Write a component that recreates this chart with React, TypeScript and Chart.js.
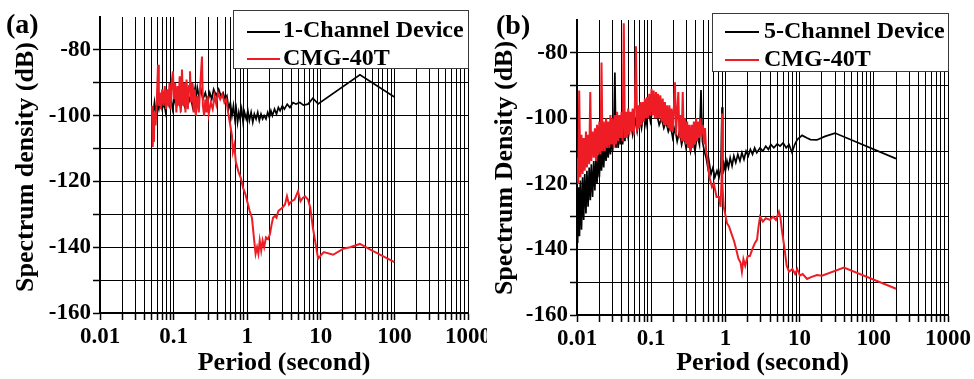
import React, { useEffect, useRef } from 'react';
import { Chart, registerables } from 'chart.js';

Chart.register(...registerables);

// ---------- axis labels ----------
const decadeLabels = ['0.01', '0.1', '1', '10', '100', '1000'];
const minorMultipliers = [1, 2, 3, 4, 5, 6, 7, 8, 9];
const yLabelValues = [-160, -140, -120, -100, -80];
const yMin = -160;
const yMax = -70;
const xTitle = 'Period (second)';

// ---------- panel (a) data: [period (s), dB] ----------
const aBlackLabel = '1-Channel Device';
const aRedLabel = 'CMG-40T';
const aBlack: [number, number][] = [
  [0.051, -100], [0.052, -103.5], [0.053, -99], [0.055, -96], [0.057, -99], [0.06, -96], [0.063, -98],
  [0.066, -95], [0.07, -98], [0.074, -96], [0.078, -99], [0.082, -95], [0.087, -97], [0.092, -94],
  [0.097, -98], [0.103, -95], [0.11, -97], [0.117, -94], [0.125, -98], [0.132, -95], [0.14, -97],
  [0.15, -93], [0.16, -96], [0.17, -94], [0.18, -97], [0.19, -92], [0.2, -95], [0.21, -91.5],
  [0.22, -94], [0.235, -92], [0.25, -95], [0.27, -93], [0.29, -96], [0.31, -93], [0.33, -95],
  [0.35, -92], [0.38, -94], [0.41, -92], [0.44, -94], [0.47, -93], [0.5, -95], [0.53, -94],
  [0.56, -98], [0.59, -96], [0.62, -100], [0.65, -97], [0.68, -101], [0.71, -98], [0.74, -102],
  [0.77, -99], [0.8, -101], [0.84, -98], [0.88, -102], [0.92, -99], [0.97, -101], [1.02, -98.5],
  [1.07, -101.5], [1.13, -99], [1.19, -102], [1.25, -99.5], [1.32, -101], [1.39, -99], [1.46, -101.5],
  [1.54, -99.5], [1.62, -101], [1.7, -100], [1.8, -101], [1.9, -99], [2.0, -100.5], [2.1, -98.5],
  [2.2, -100], [2.35, -98], [2.5, -99.5], [2.65, -97.5], [2.8, -98.5], [3.0, -97], [3.2, -98],
  [3.5, -96.5], [3.8, -97.5], [4.2, -96], [4.6, -96.5], [5.2, -96], [5.8, -96.8], [6.7, -96.5],
  [7.8, -94.7], [9.2, -96.4], [34, -87.6], [100, -94.3],
];
const aRed: [number, number][] = [
  [0.051, -97], [0.052, -109.5], [0.053, -104], [0.054, -108], [0.055, -99], [0.057, -103], [0.059, -96],
  [0.0614, -84.5], [0.063, -97], [0.065, -93], [0.067, -98], [0.07, -92], [0.073, -97], [0.076, -91],
  [0.079, -98], [0.082, -92], [0.085, -97], [0.088, -90], [0.091, -98], [0.095, -89], [0.098, -86.5],
  [0.101, -95], [0.105, -90], [0.109, -99], [0.113, -91], [0.117, -97], [0.121, -88], [0.125, -99],
  [0.13, -86], [0.135, -97], [0.14, -90], [0.145, -99], [0.15, -89], [0.156, -98], [0.162, -91],
  [0.167, -86.5], [0.173, -96], [0.18, -90], [0.187, -99], [0.194, -92], [0.2, -100], [0.21, -94],
  [0.22, -99], [0.23, -91], [0.243, -82], [0.25, -97], [0.26, -100], [0.27, -95], [0.28, -99],
  [0.29, -94], [0.3, -99.5], [0.32, -96], [0.34, -98], [0.36, -94], [0.38, -96.5], [0.4, -93],
  [0.43, -95], [0.46, -93.5], [0.49, -96], [0.52, -95], [0.55, -99], [0.58, -102], [0.62, -106],
  [0.64, -111], [0.67, -109], [0.7, -114], [0.76, -117], [0.82, -119], [0.88, -122], [0.95, -124],
  [1.0, -126], [1.08, -129], [1.16, -131], [1.22, -136], [1.3, -142], [1.36, -140], [1.42, -142],
  [1.48, -138], [1.55, -141], [1.62, -138], [1.7, -140], [1.8, -137], [1.92, -137.5], [2.04, -136],
  [2.15, -133], [2.25, -131], [2.39, -130.5], [2.5, -131], [2.65, -129], [2.8, -128.5], [3.0, -128],
  [3.26, -127], [3.47, -124.5], [3.7, -127], [4.0, -126], [4.4, -125.5], [4.9, -123], [5.3, -126],
  [5.7, -125], [6.1, -124.5], [6.7, -125.5], [7.2, -128], [7.8, -134], [8.5, -139], [9.2, -143.5],
  [10, -142.5], [11, -141.5], [14.7, -142.3], [20, -140.5], [25, -140], [34, -139], [50, -141],
  [100, -144.5],
];

// ---------- panel (b) data: [period (s), dB] ----------
const bBlackLabel = '5-Channel Device';
const bRedLabel = 'CMG-40T';
const bBlack: [number, number][] = [
  [0.01, -125], [0.0102, -138], [0.0105, -121], [0.0108, -136], [0.0111, -119], [0.0115, -134],
  [0.0119, -118], [0.0123, -131], [0.0127, -117], [0.0132, -129], [0.0136, -116], [0.0141, -127],
  [0.0146, -115], [0.0151, -125], [0.0156, -114], [0.0162, -124], [0.0168, -113], [0.0174, -122],
  [0.018, -112], [0.0186, -120], [0.0193, -111], [0.02, -118], [0.0207, -110], [0.0214, -116],
  [0.0221, -109], [0.0229, -115], [0.0237, -108], [0.0246, -113], [0.0254, -107], [0.0263, -112],
  [0.0273, -106], [0.0282, -111], [0.0292, -105], [0.0302, -110], [0.0313, -104], [0.0324, -86],
  [0.0335, -109], [0.0347, -104], [0.0359, -109], [0.0372, -103], [0.0385, -108], [0.0398, -102],
  [0.0412, -108], [0.0427, -103], [0.0442, -107], [0.0457, -102], [0.049, -106], [0.0525, -101],
  [0.0562, -105], [0.0603, -100], [0.0646, -104], [0.0692, -99], [0.0741, -103], [0.0794, -98],
  [0.0851, -102], [0.0912, -97], [0.0977, -101], [0.105, -97], [0.112, -98.5], [0.12, -99],
  [0.128, -102], [0.138, -100], [0.148, -103], [0.158, -101], [0.17, -104], [0.182, -102],
  [0.195, -106], [0.209, -103], [0.224, -107], [0.24, -104], [0.257, -108], [0.275, -105],
  [0.295, -109], [0.316, -106], [0.339, -110], [0.363, -106], [0.389, -110], [0.417, -105],
  [0.447, -108], [0.469, -91.4], [0.49, -107], [0.52, -110], [0.55, -112], [0.58, -115], [0.6, -113],
  [0.64, -117], [0.68, -115], [0.72, -118], [0.77, -116], [0.82, -118], [0.87, -115], [0.9, -96.6],
  [0.92, -117], [0.96, -114], [1.0, -116], [1.05, -113], [1.1, -115], [1.16, -112], [1.23, -114.5],
  [1.3, -111.5], [1.38, -113.5], [1.47, -111], [1.57, -113], [1.67, -110.5], [1.78, -112.5],
  [1.9, -110], [2.03, -111.5], [2.17, -109.5], [2.32, -111], [2.48, -109], [2.65, -110.5],
  [2.93, -109], [3.2, -110], [3.5, -108.5], [3.8, -109.5], [4.1, -108], [4.5, -109], [5.0, -107.8],
  [5.45, -108.5], [6.0, -107.5], [6.6, -109], [7.2, -108], [7.9, -110.4], [8.6, -108], [9.3, -106.5],
  [10.8, -105.2], [12.6, -106], [14, -106.5], [17.1, -106.6], [22, -105.5], [30, -104.5], [199, -112.3],
];
const bRed: [number, number][] = [
  [0.01, -112], [0.0104, -120], [0.0107, -91.5], [0.0111, -118], [0.0115, -105], [0.0119, -117],
  [0.0123, -106], [0.0127, -116], [0.0132, -104], [0.0136, -115], [0.0141, -105], [0.0146, -114],
  [0.0151, -92], [0.0156, -113], [0.0162, -104], [0.0168, -112], [0.0174, -103], [0.018, -113],
  [0.0186, -102], [0.0193, -111], [0.02, -101], [0.0207, -111], [0.0214, -83], [0.0221, -110],
  [0.0229, -101], [0.0237, -110], [0.0246, -100], [0.0254, -109], [0.0263, -101], [0.0273, -109],
  [0.0282, -99], [0.0292, -108], [0.0302, -100], [0.0313, -109], [0.0324, -99], [0.0335, -108],
  [0.0347, -98], [0.0359, -107], [0.0372, -99], [0.0385, -106], [0.0398, -98], [0.0412, -107],
  [0.0427, -71], [0.0442, -106], [0.0457, -98], [0.0473, -106], [0.049, -97], [0.0507, -105],
  [0.0525, -98], [0.0543, -104], [0.0562, -97], [0.0582, -105], [0.0603, -96], [0.0624, -78],
  [0.0646, -104], [0.0668, -96], [0.0692, -103], [0.0716, -95], [0.0741, -102], [0.0767, -95],
  [0.0794, -101], [0.0822, -94], [0.0851, -100], [0.0881, -93.5], [0.0912, -100], [0.0944, -92.5],
  [0.0977, -99], [0.101, -91], [0.105, -99], [0.108, -91.5], [0.112, -100], [0.116, -92],
  [0.12, -100], [0.124, -92.5], [0.128, -100], [0.133, -93], [0.138, -101], [0.143, -94],
  [0.148, -102], [0.153, -95], [0.158, -102], [0.164, -96], [0.17, -103], [0.176, -96],
  [0.182, -104], [0.188, -97], [0.195, -104], [0.202, -97], [0.209, -89], [0.216, -105],
  [0.224, -98], [0.232, -92], [0.24, -106], [0.248, -99], [0.257, -107], [0.266, -92],
  [0.275, -107], [0.285, -100], [0.295, -108], [0.305, -101], [0.316, -109], [0.327, -102],
  [0.339, -110], [0.351, -102], [0.363, -109], [0.376, -101], [0.389, -108], [0.403, -100],
  [0.417, -107], [0.432, -101], [0.447, -106], [0.462, -100], [0.479, -105], [0.496, -102],
  [0.513, -108], [0.531, -103], [0.55, -110], [0.569, -112], [0.589, -115], [0.61, -118],
  [0.66, -121], [0.7, -120], [0.76, -124], [0.82, -124], [0.86, -127], [0.89, -118], [0.9, -98.5],
  [0.91, -120], [0.95, -127], [0.99, -129], [1.05, -132], [1.12, -133], [1.2, -135], [1.31, -137.5],
  [1.4, -140], [1.5, -142.8], [1.6, -144], [1.67, -146.8], [1.75, -143], [1.85, -145], [2.0, -142],
  [2.14, -142], [2.3, -140], [2.5, -138], [2.67, -137], [2.8, -133], [2.93, -130], [3.2, -131.5],
  [3.5, -130.5], [3.99, -131], [4.4, -130], [4.8, -131], [5.27, -128.5], [5.5, -130], [5.8, -134.5],
  [6.2, -139], [6.7, -145], [7.2, -146.8], [8.0, -146], [8.7, -147.5], [9.3, -146], [10.1, -148],
  [11, -147.5], [12.6, -149], [14, -148.5], [17.1, -147.8], [20, -148], [39.6, -145.5], [200, -152],
];

const BLACK = '#000000';
const RED = '#ee1c24';
const FONT = '"Liberation Serif", "Times New Roman", serif';

type Layout = {
  width: number;
  left: number;
  right: number;
  top: number;
  bottom: number;
  yTitle: string;
  yTitleX: number;
  yTitleY: number;
  label: string;
  labelX: number;
  labelY: number;
  box: { x: number; y: number; w: number; h: number };
  lineX1: number;
  lineX2: number;
  textX: number;
  rowLineY: number[];
  rowTextY: number[];
};

const H = 379;

const decoPlugin = {
  id: 'deco',
  afterDraw(chart: any, _args: any, opts: any) {
    const ctx = chart.ctx as CanvasRenderingContext2D;
    const L: Layout = opts.layout;
    ctx.save();
    ctx.fillStyle = '#000';
    ctx.textBaseline = 'alphabetic';
    ctx.textAlign = 'left';
    ctx.font = `bold 28px ${FONT}`;
    ctx.fillText(L.label, L.labelX, L.labelY);

    // y-axis title (rotated)
    ctx.save();
    ctx.translate(L.yTitleX, L.yTitleY);
    ctx.rotate(-Math.PI / 2);
    ctx.textAlign = 'center';
    ctx.textBaseline = 'middle';
    ctx.font = `bold 26px ${FONT}`;
    ctx.fillText(L.yTitle, 0, 0);
    ctx.restore();

    const b = L.box;
    ctx.fillStyle = '#fff';
    ctx.fillRect(b.x, b.y, b.w, b.h);
    ctx.strokeStyle = '#3a3a3a';
    ctx.lineWidth = 1;
    ctx.strokeRect(b.x + 0.5, b.y + 0.5, b.w - 1, b.h - 1);

    ctx.font = `bold 24px ${FONT}`;
    ctx.textAlign = 'left';
    ctx.textBaseline = 'alphabetic';
    chart.data.datasets.forEach((ds: any, i: number) => {
      ctx.strokeStyle = ds.borderColor;
      ctx.lineWidth = 2;
      ctx.beginPath();
      ctx.moveTo(L.lineX1, L.rowLineY[i]);
      ctx.lineTo(L.lineX2, L.rowLineY[i]);
      ctx.stroke();
      ctx.fillStyle = '#000';
      ctx.fillText(ds.label, L.textX, L.rowTextY[i]);
    });
    ctx.restore();
  },
};

function decadeLabelFor(value: number): string {
  for (const l of decadeLabels) {
    const n = Number(l);
    if (Math.abs(n - value) / n < 1e-6) return l;
  }
  return '';
}

function makeConfig(black: [number, number][], red: [number, number][], blackLabel: string, redLabel: string, L: Layout): any {
  return {
    type: 'line',
    data: {
      datasets: [
        {
          label: blackLabel,
          data: black.map(([x, y]) => ({ x, y })),
          borderColor: BLACK,
          borderWidth: 1.7,
          pointRadius: 0,
          tension: 0,
          order: 2,
        },
        {
          label: redLabel,
          data: red.map(([x, y]) => ({ x, y })),
          borderColor: RED,
          borderWidth: 2,
          pointRadius: 0,
          tension: 0,
          order: 1,
        },
      ],
    },
    options: {
      animation: false,
      responsive: false,
      maintainAspectRatio: false,
      events: [],
      layout: { padding: { left: 0, top: L.top, right: L.width - L.right, bottom: 0 } },
      plugins: {
        legend: { display: false },
        tooltip: { enabled: false },
        deco: { layout: L },
      },
      scales: {
        x: {
          type: 'logarithmic',
          min: Number(decadeLabels[0]),
          max: Number(decadeLabels[decadeLabels.length - 1]),
          afterBuildTicks: (scale: any) => {
            const ticks: { value: number }[] = [];
            decadeLabels.forEach((l, i) => {
              const d = Number(l);
              if (i === decadeLabels.length - 1) {
                ticks.push({ value: d });
              } else {
                minorMultipliers.forEach((m) => ticks.push({ value: Number((d * m).toPrecision(6)) }));
              }
            });
            scale.ticks = ticks;
          },
          afterFit: (scale: any) => {
            scale.height = H - L.bottom;
            scale.paddingLeft = 0;
            scale.paddingRight = 0;
          },
          grid: {
            color: '#000',
            lineWidth: 1,
            drawTicks: true,
            tickLength: 7,
            tickWidth: 1.5,
          },
          border: { display: true, color: '#000', width: 2 },
          ticks: {
            autoSkip: false,
            maxRotation: 0,
            minRotation: 0,
            padding: 3,
            color: '#000',
            font: { family: FONT, size: 23, weight: 'bold' },
            callback: (v: any) => decadeLabelFor(Number(v)),
          },
          title: {
            display: true,
            text: xTitle,
            color: '#000',
            font: { family: FONT, size: 26, weight: 'bold', lineHeight: 1.2 },
            padding: { top: 0, bottom: 0 },
          },
        },
        y: {
          type: 'linear',
          min: yMin,
          max: yMax,
          afterFit: (scale: any) => {
            scale.width = L.left;
            scale.paddingTop = 0;
            scale.paddingBottom = 0;
          },
          grid: {
            color: (c: any) => (c.tick && c.tick.value === yMax ? 'rgba(0,0,0,0)' : '#000'),
            lineWidth: 1,
            drawTicks: true,
            tickLength: 7,
            tickWidth: 1.5,
          },
          border: { display: true, color: '#000', width: 2 },
          ticks: {
            stepSize: 10,
            padding: 2,
            color: '#000',
            font: { family: FONT, size: 23, weight: 'bold' },
            callback: (v: any) => (yLabelValues.includes(Number(v)) ? String(v) : ''),
          },
          title: { display: false },
        },
      },
    },
    plugins: [decoPlugin],
  };
}

const layoutA: Layout = {
  width: 487,
  left: 100,
  right: 468,
  top: 17,
  bottom: 313,
  yTitle: 'Spectrum density (dB)',
  yTitleX: 26,
  yTitleY: 167,
  label: '(a)',
  labelX: 6,
  labelY: 33,
  box: { x: 233, y: 10, w: 236, h: 59 },
  lineX1: 247,
  lineX2: 280,
  textX: 283,
  rowLineY: [32, 59],
  rowTextY: [37, 65],
};

const layoutB: Layout = {
  width: 487,
  left: 90,
  right: 461,
  top: 20,
  bottom: 315,
  yTitle: 'Spectrum Density (dB)',
  yTitleX: 18,
  yTitleY: 168,
  label: '(b)',
  labelX: 9,
  labelY: 34,
  box: { x: 225, y: 13, w: 237, h: 59 },
  lineX1: 238,
  lineX2: 272,
  textX: 277,
  rowLineY: [32, 60],
  rowTextY: [38, 66],
};

function Panel({ config, left }: { config: () => any; left: number }) {
  const ref = useRef<HTMLCanvasElement | null>(null);
  useEffect(() => {
    if (!ref.current) return;
    const chart = new Chart(ref.current, config());
    return () => chart.destroy();
  }, []);
  return (
    <canvas
      ref={ref}
      width={487}
      height={H}
      style={{ position: 'absolute', left, top: 0, width: 487, height: H }}
    />
  );
}

export default function App() {
  return (
    <div style={{ position: 'absolute', left: 0, top: 0, width: 974, height: H, background: '#fff' }}>
      <Panel left={0} config={() => makeConfig(aBlack, aRed, aBlackLabel, aRedLabel, layoutA)} />
      <Panel left={487} config={() => makeConfig(bBlack, bRed, bBlackLabel, bRedLabel, layoutB)} />
    </div>
  );
}
